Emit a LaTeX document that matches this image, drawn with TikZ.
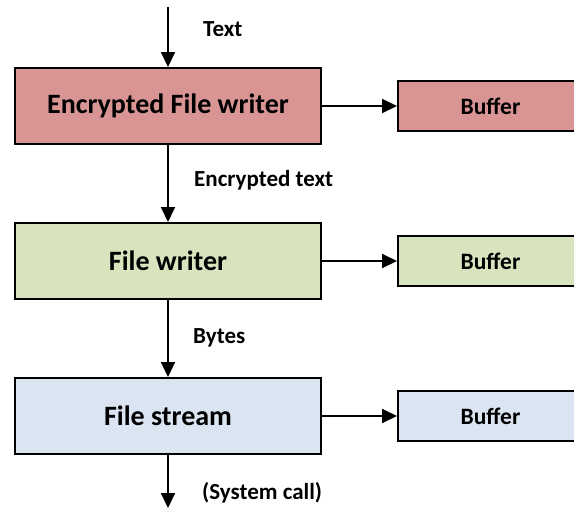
\documentclass[tikz,border=0pt]{standalone}
\usepackage{fontspec}
\setmainfont{Carlito}
\usetikzlibrary{arrows.meta,positioning}
\definecolor{encred}{HTML}{D99594}
\definecolor{writegreen}{HTML}{D7E4BD}
\definecolor{streamblue}{HTML}{DBE5F1}

\begin{document}
\begin{tikzpicture}[x=1pt, y=-1pt, >={Triangle[length=15pt,width=14pt]},
    stage/.style={draw, line width=2pt, minimum width=306pt, minimum height=76pt,
        inner sep=0pt, font=\fontsize{28}{32}\selectfont\bfseries},
    buffer/.style={draw, line width=2pt, minimum width=185pt, minimum height=50pt,
        inner sep=0pt, font=\fontsize{23.5}{27}\selectfont\bfseries},
    flow/.style={->, line width=2pt},
    lbl/.style={anchor=west, inner sep=0pt, font=\fontsize{23}{26}\selectfont\bfseries}]
    \clip (0,0) rectangle (574,507);

    % Three stages, each with its buffer
    \foreach \i/\nm/\txt/\bg in {%
        0/enc/{Encrypted File writer}/encred,%
        1/fw/{File writer}/writegreen,%
        2/fs/{File stream}/streamblue%
    } {
        \node[stage, fill=\bg] (\nm) at (168, 106+155*\i) {\txt};
        \node[buffer, fill=\bg] (\nm buf) at (490.5, 106+155*\i) {Buffer};
        \draw[flow] (\nm) -- (\nm buf);
    }

    % In and out
    \coordinate (in) at (168, 7);
    \coordinate (out) at (168, 508);
    \draw[flow] (in) -- (enc);
    \draw[flow] (enc) -- (fw);
    \draw[flow] (fw) -- (fs);
    \draw[flow] (fs) -- (out);

    % Data labels
    \node[lbl] (ltext) at (203, 29) {Text};
    \node[lbl] (lenc) at (194, 180) {Encrypted text};
    \node[lbl] (lbytes) at (193, 338) {Bytes};
    \node[lbl] (lsys) at (202, 493) {(System call)};
\end{tikzpicture}
\end{document}
